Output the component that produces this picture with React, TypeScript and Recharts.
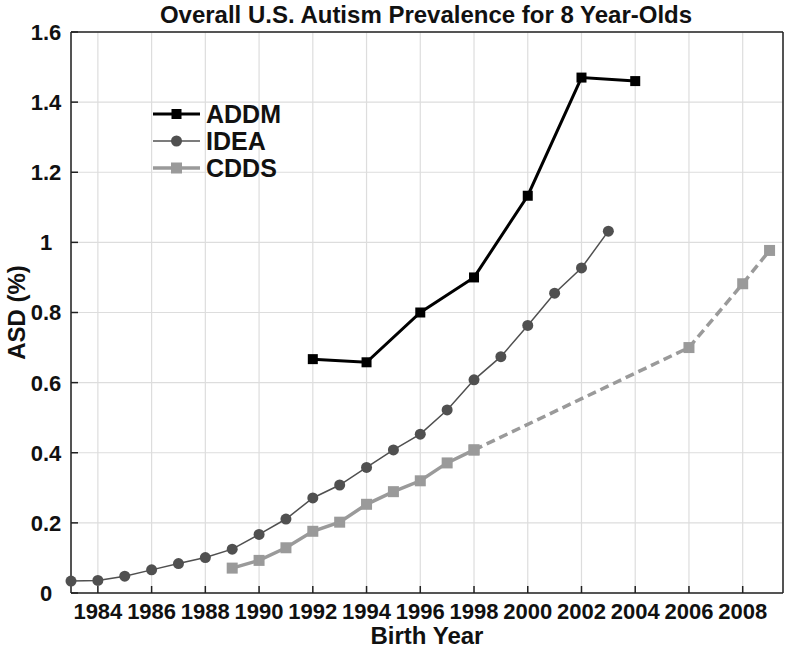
import React from "react";
import { CartesianGrid, Legend, Line, LineChart, XAxis, YAxis } from "recharts";

const xTicks = [1984, 1986, 1988, 1990, 1992, 1994, 1996, 1998, 2000, 2002, 2004, 2006, 2008];
const yTicks = [0, 0.2, 0.4, 0.6, 0.8, 1, 1.2, 1.4, 1.6];

const addmYears = [1992, 1994, 1996, 1998, 2000, 2002, 2004];
const addmValues = [0.667, 0.658, 0.8, 0.9, 1.133, 1.47, 1.46];

const ideaYears = [1983, 1984, 1985, 1986, 1987, 1988, 1989, 1990, 1991, 1992, 1993, 1994, 1995, 1996, 1997, 1998, 1999, 2000, 2001, 2002, 2003];
const ideaValues = [0.034, 0.036, 0.048, 0.066, 0.084, 0.101, 0.125, 0.167, 0.211, 0.271, 0.308, 0.358, 0.408, 0.453, 0.522, 0.608, 0.674, 0.763, 0.855, 0.927, 1.032];

const cddsYears = [1989, 1990, 1991, 1992, 1993, 1994, 1995, 1996, 1997, 1998];
const cddsValues = [0.071, 0.093, 0.129, 0.176, 0.202, 0.253, 0.289, 0.32, 0.371, 0.408];

// dashed part of the CDDS series
const cddsLaterYears = [1998, 2006, 2008, 2009];
const cddsLaterValues = [0.408, 0.7, 0.882, 0.977];

const toRows = (years: number[], values: number[]) => years.map((year, i) => ({ year, value: values[i] }));

const addmData = toRows(addmYears, addmValues);
const ideaData = toRows(ideaYears, ideaValues);
const cddsData = toRows(cddsYears, cddsValues);
const cddsLaterData = toRows(cddsLaterYears, cddsLaterValues);

const FONT = "'Liberation Sans', Arial, Helvetica, sans-serif";
const AXIS = "#222";
const ADDM = "#000000";
const IDEA = "#505050";
const CDDS = "#9a9a9a";

const squareDot = (size: number, fill: string) => (p: any) => (
  <rect key={`sq-${p.index}`} x={p.cx - size / 2} y={p.cy - size / 2} width={size} height={size} fill={fill} />
);

const BottomTick = ({ x, y, payload }: any) => (
  <g>
    <line x1={x} y1={y} x2={x} y2={y - 7} stroke={AXIS} strokeWidth={1.5} />
    <text x={x} y={y + 26} textAnchor="middle" fontSize={22} fontWeight="bold" fontFamily={FONT} fill="#111">
      {payload.value}
    </text>
  </g>
);

const TopTick = ({ x, y }: any) => <line x1={x} y1={y} x2={x} y2={y + 7} stroke={AXIS} strokeWidth={1.5} />;

const LeftTick = ({ x, y, payload }: any) => (
  <g>
    <line x1={x} y1={y} x2={x + 7} y2={y} stroke={AXIS} strokeWidth={1.5} />
    <text x={46} y={y} dy="0.36em" textAnchor="middle" fontSize={22} fontWeight="bold" fontFamily={FONT} fill="#111">
      {String(payload.value)}
    </text>
  </g>
);

const RightTick = ({ x, y }: any) => <line x1={x} y1={y} x2={x - 7} y2={y} stroke={AXIS} strokeWidth={1.5} />;

const legendRows = [
  { name: "ADDM", color: ADDM, width: 3, marker: "square", size: 10 },
  { name: "IDEA", color: IDEA, width: 1.5, marker: "circle", size: 11 },
  { name: "CDDS", color: CDDS, width: 3.5, marker: "square", size: 11 }
];

const LegendBox = () => (
  <svg width={150} height={86} style={{ display: "block" }}>
    {legendRows.map((r, i) => {
      const cy = 15 + i * 27;
      return (
        <g key={r.name}>
          <line x1={3} y1={cy} x2={50} y2={cy} stroke={r.color} strokeWidth={r.width} />
          {r.marker === "square" ? (
            <rect x={26.5 - r.size / 2} y={cy - r.size / 2} width={r.size} height={r.size} fill={r.color} />
          ) : (
            <circle cx={26.5} cy={cy} r={r.size / 2} fill={r.color} />
          )}
          <text x={56} y={cy} dy="0.36em" fontSize={25} fontWeight="bold" fontFamily={FONT} fill="#111">
            {r.name}
          </text>
        </g>
      );
    })}
  </svg>
);

export default function App() {
  return (
    <div style={{ position: "absolute", left: 0, top: 0, width: 786, height: 651, background: "#fff" }}>
      <LineChart width={786} height={651} margin={{ top: 31, right: 2, bottom: 0, left: 0 }}>
        <CartesianGrid stroke="#dddddd" strokeWidth={1.2} />
        <XAxis
          dataKey="year"
          type="number"
          domain={[1983, 2009.5]}
          ticks={xTicks}
          height={58}
          tickSize={0}
          tickMargin={0}
          tickLine={false}
          axisLine={{ stroke: AXIS, strokeWidth: 1.5 }}
          tick={<BottomTick />}
          interval={0}
          label={({ viewBox }: any) => (
            <text x={viewBox.x + viewBox.width / 2} y={644} textAnchor="middle" fontSize={24} fontWeight="bold" fontFamily={FONT} fill="#111">
              Birth Year
            </text>
          )}
        />
        <XAxis
          xAxisId="top"
          orientation="top"
          dataKey="year"
          type="number"
          domain={[1983, 2009.5]}
          ticks={xTicks}
          height={1}
          tickSize={0}
          tickMargin={0}
          tickLine={false}
          axisLine={{ stroke: AXIS, strokeWidth: 1.5 }}
          tick={<TopTick />}
          interval={0}
          label={() => (
            <text x={426} y={23} textAnchor="middle" fontSize={24} fontWeight="bold" fontFamily={FONT} fill="#111">
              Overall U.S. Autism Prevalence for 8 Year-Olds
            </text>
          )}
        />
        <YAxis
          type="number"
          domain={[0, 1.6]}
          ticks={yTicks}
          width={71}
          tickSize={0}
          tickMargin={0}
          tickLine={false}
          axisLine={{ stroke: AXIS, strokeWidth: 1.5 }}
          tick={<LeftTick />}
          interval={0}
          label={({ viewBox }: any) => {
            const cy = viewBox.y + viewBox.height / 2;
            return (
              <text x={24.5} y={cy} transform={`rotate(-90, 24.5, ${cy})`} textAnchor="middle" fontSize={24} fontWeight="bold" fontFamily={FONT} fill="#111">
                ASD (%)
              </text>
            );
          }}
        />
        <YAxis
          yAxisId="right"
          orientation="right"
          type="number"
          domain={[0, 1.6]}
          ticks={yTicks}
          width={1}
          tickSize={0}
          tickMargin={0}
          tickLine={false}
          axisLine={{ stroke: AXIS, strokeWidth: 1.5 }}
          tick={<RightTick />}
          interval={0}
        />
        <Legend
          layout="vertical"
          align="center"
          verticalAlign="middle"
          content={<LegendBox />}
          wrapperStyle={{ left: 150, top: 99, width: 150, height: 86 }}
        />
        <Line
          data={cddsLaterData}
          dataKey="value"
          name="CDDS projected"
          stroke={CDDS}
          strokeWidth={3.5}
          strokeDasharray="9 5"
          dot={squareDot(11, CDDS)}
          activeDot={false}
          legendType="none"
          isAnimationActive={false}
        />
        <Line
          data={cddsData}
          dataKey="value"
          name="CDDS"
          stroke={CDDS}
          strokeWidth={3.5}
          dot={squareDot(11, CDDS)}
          activeDot={false}
          isAnimationActive={false}
        />
        <Line
          data={ideaData}
          dataKey="value"
          name="IDEA"
          stroke={IDEA}
          strokeWidth={1.5}
          dot={{ r: 5.5, fill: IDEA, stroke: IDEA, strokeWidth: 0 }}
          activeDot={false}
          isAnimationActive={false}
        />
        <Line
          data={addmData}
          dataKey="value"
          name="ADDM"
          stroke={ADDM}
          strokeWidth={3}
          dot={squareDot(10, ADDM)}
          activeDot={false}
          isAnimationActive={false}
        />
      </LineChart>
    </div>
  );
}
